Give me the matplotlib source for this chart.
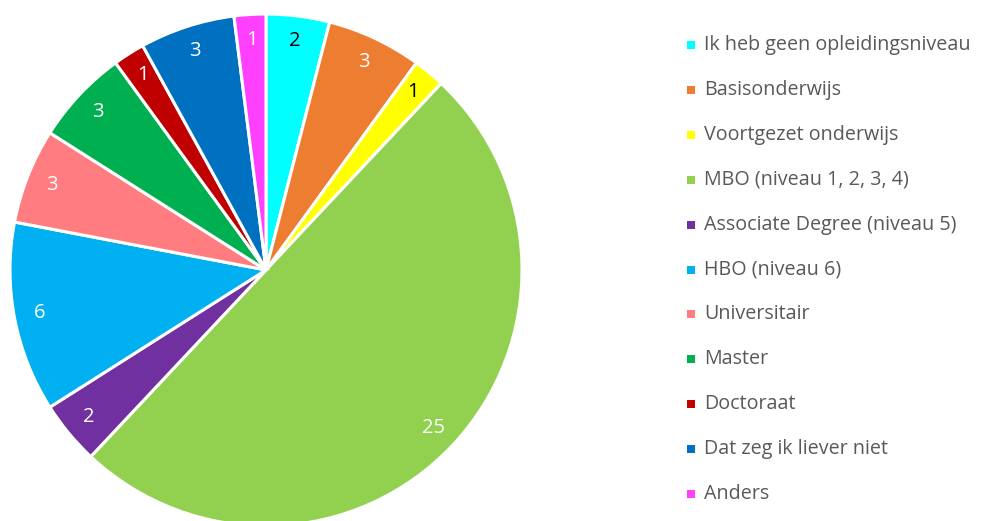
import matplotlib
matplotlib.use("Agg")
import matplotlib.pyplot as plt
from matplotlib.patches import Rectangle

categories = [
    "Ik heb geen opleidingsniveau",
    "Basisonderwijs",
    "Voortgezet onderwijs",
    "MBO (niveau 1, 2, 3, 4)",
    "Associate Degree (niveau 5)",
    "HBO (niveau 6)",
    "Universitair",
    "Master",
    "Doctoraat",
    "Dat zeg ik liever niet",
    "Anders",
]
counts = [2, 3, 1, 25, 2, 6, 3, 3, 1, 3, 1]
colors = ["#00FFFF", "#ED7D31", "#FFFF00", "#92D050", "#7030A0", "#00B0F0",
          "#FF7C80", "#00B050", "#C00000", "#0070C0", "#FF40FF"]
label_colors = ["black", "white", "black", "white", "white", "white",
                "white", "white", "white", "white", "white"]

W, H = 992, 521
fig = plt.figure(figsize=(W / 100, H / 100), dpi=100)
plt.rcParams["font.family"] = ["Open Sans", "DejaVu Sans"]

cx, cy, R = 266, 270, 256
ax = fig.add_axes([(cx - R) / W, (H - cy - R) / H, 2 * R / W, 2 * R / H])
wedges, texts = ax.pie(
    counts, colors=colors, startangle=90, counterclock=False,
    labels=[str(c) for c in counts], labeldistance=0.9,
    wedgeprops=dict(edgecolor="white", linewidth=2.2),
    textprops=dict(fontsize=14.5, ha="center", va="center"),
)
for t, c in zip(texts, label_colors):
    t.set_color(c)
ax.set_xlim(-1, 1)
ax.set_ylim(-1, 1)
ax.set_aspect("equal")
ax.axis("off")

# legend drawn row by row on the right
y0, step = 45, 44.9
for i, (name, col) in enumerate(zip(categories, colors)):
    y = y0 + i * step
    fig.patches.append(Rectangle(((687) / W, (H - y - 4) / H), 8 / W, 8 / H,
                                 transform=fig.transFigure, facecolor=col,
                                 edgecolor="none"))
    fig.text(704 / W, (H - y) / H, name, fontsize=14.2, color="#595959",
             ha="left", va="center")

fig.savefig("out.png", dpi=100)
